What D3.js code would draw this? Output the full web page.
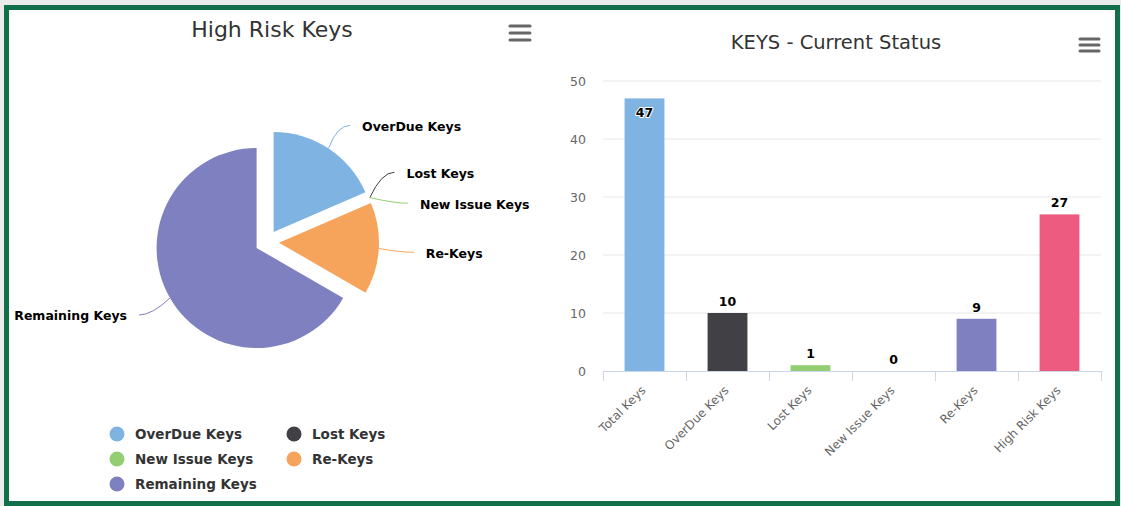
<!DOCTYPE html>
<html>
<head>
<meta charset="utf-8">
<script src="https://cdn.jsdelivr.net/npm/d3@7"></script>
<style>
  body { margin: 0; background: #fff; }
  svg { display: block; font-family: 'DejaVu Sans', sans-serif; }
</style>
</head>
<body>
<div id="chart"></div>
<script>
// pie data (left panel)
const pieCats = ['OverDue Keys', 'Lost Keys', 'New Issue Keys', 'Re-Keys', 'Remaining Keys']
const pieValues = [10, 0, 0, 8, 36]
const pieColors = ['#7eb3e2', '#414145', '#93cf72', '#f6a35c', '#7f80bf']

// bar data (right panel)
const barCats = ['Total Keys', 'OverDue Keys', 'Lost Keys', 'New Issue Keys', 'Re-Keys', 'High Risk Keys']
const barValues = [47, 10, 1, 0, 9, 27]
const barColors = ['#7eb3e2', '#414145', '#93cf72', '#f6a35c', '#7f80bf', '#ee5b80']
const yTicks = [0, 10, 20, 30, 40, 50]

const W = 1121, H = 506
const svg = d3.select('#chart').append('svg')
  .attr('width', W)
  .attr('height', H)

// page background + green frame
svg.append('rect').attr('width', W).attr('height', H).attr('fill', '#ebebeb')
svg.append('rect')
  .attr('x', 6.5).attr('y', 7.5)
  .attr('width', W - 10).attr('height', H - 10)
  .attr('fill', '#fff')
  .attr('stroke', '#11704a')
  .attr('stroke-width', 5)

function menuIcon(g, x, y, w, gap) {
  for (let i = 0; i < 3; i++) {
    g.append('line')
      .attr('x1', x).attr('x2', x + w)
      .attr('y1', y + i * gap).attr('y2', y + i * gap)
      .attr('stroke', '#666')
      .attr('stroke-width', 3)
      .attr('stroke-linecap', 'round')
  }
}

// ---------- pie ----------
const pieG = svg.append('g')
pieG.append('text')
  .text('High Risk Keys')
  .attr('x', 272).attr('y', 37)
  .attr('text-anchor', 'middle')
  .attr('fill', '#333')
  .style('font-size', '22px')
menuIcon(pieG, 510, 26, 20, 7)

const cx = 267, cy = 242, r = 100, sliceOff = 12, labelR = 130
const pie = d3.pie().sort(null).value(d => d)
const arcs = pie(pieValues)
const arc = d3.arc().innerRadius(0).outerRadius(r)

const slices = arcs.map((a, i) => {
  const mid = (a.startAngle + a.endAngle) / 2
  const dx = Math.sin(mid), dy = -Math.cos(mid)
  return {
    a: a, i: i, mid: mid, dx: dx, dy: dy,
    ox: dx * sliceOff, oy: dy * sliceOff,
    right: mid < Math.PI,
    y: cy + dy * sliceOff + dy * labelR
  }
})

pieG.append('g').selectAll('path').data(slices)
  .enter().append('path')
  .attr('transform', d => `translate(${cx + d.ox},${cy + d.oy})`)
  .attr('d', d => arc(d.a))
  .attr('fill', d => pieColors[d.i])

// spread labels that collide (per side)
const minGap = 31
for (const side of [true, false]) {
  const list = slices.filter(s => s.right === side).sort((p, q) => p.y - q.y)
  for (let iter = 0; iter < 50; iter++) {
    let moved = false
    for (let k = 1; k < list.length; k++) {
      const diff = list[k].y - list[k - 1].y
      if (diff < minGap) {
        const push = (minGap - diff) / 2
        list[k - 1].y -= push
        list[k].y += push
        moved = true
      }
    }
    if (!moved) break
  }
}
slices.forEach(s => {
  const ddy = s.y - (cy + s.oy)
  const half = Math.sqrt(Math.max(0, labelR * labelR - ddy * ddy))
  s.cxLab = s.right ? cx + s.ox + half : cx + s.ox - half
  s.tx = s.right ? s.cxLab + 17 : s.cxLab - 17
  s.ex = cx + s.ox + s.dx * r
  s.ey = cy + s.oy + s.dy * r
})

pieG.append('g').selectAll('path').data(slices)
  .enter().append('path')
  .attr('fill', 'none')
  .attr('stroke', d => pieColors[d.i])
  .attr('stroke-width', 1)
  .attr('d', d => {
    const endX = d.right ? d.cxLab + 5 : d.cxLab - 5
    const ctrlX = d.right ? d.cxLab - 8 : d.cxLab + 8
    return `M${d.ex},${d.ey} Q${ctrlX},${d.y + 2} ${endX},${d.y + 2}`
  })

pieG.append('g').selectAll('text').data(slices)
  .enter().append('text')
  .text(d => pieCats[d.i])
  .attr('x', d => d.tx)
  .attr('y', d => d.y + 3)
  .attr('dy', '0.35em')
  .attr('text-anchor', d => d.right ? 'start' : 'end')
  .attr('fill', '#000')
  .style('font-size', '12.5px')
  .style('font-weight', 'bold')

// legend
const legend = pieG.append('g').selectAll('g').data(pieCats)
  .enter().append('g')
  .attr('transform', (d, i) => `translate(${117 + (i % 2) * 177},${434 + Math.floor(i / 2) * 25})`)
legend.append('circle')
  .attr('r', 7.5)
  .attr('fill', (d, i) => pieColors[i])
legend.append('text')
  .text(d => d)
  .attr('x', 18)
  .attr('dy', '0.35em')
  .attr('fill', '#333')
  .style('font-size', '13.5px')
  .style('font-weight', 'bold')

// ---------- bar ----------
const barG = svg.append('g')
barG.append('text')
  .text('KEYS - Current Status')
  .attr('x', 836).attr('y', 49)
  .attr('text-anchor', 'middle')
  .attr('fill', '#333')
  .style('font-size', '19.5px')
menuIcon(barG, 1080, 39, 19, 6)

const plotL = 603, plotR = 1101, plotT = 81, plotB = 371
const xScale = d3.scaleBand().domain(barCats).range([plotL, plotR])
const yScale = d3.scaleLinear().domain([0, 50]).range([plotB, plotT])

// gridlines
barG.append('g').selectAll('line').data(yTicks.filter(t => t > 0))
  .enter().append('line')
  .attr('x1', plotL).attr('x2', plotR)
  .attr('y1', d => yScale(d)).attr('y2', d => yScale(d))
  .attr('stroke', '#e6e6e6')

const yAxis = barG.append('g')
  .attr('transform', `translate(${plotL},0)`)
  .call(d3.axisLeft(yScale).tickValues(yTicks).tickSize(0).tickPadding(17))
yAxis.select('.domain').remove()
yAxis.selectAll('text')
  .attr('fill', '#666')
  .style('font-size', '12.5px')
  .style('font-family', 'DejaVu Sans, sans-serif')

const bw = xScale.bandwidth() * 0.48
barG.append('g').selectAll('rect').data(barValues)
  .enter().append('rect')
  .attr('x', (d, i) => xScale(barCats[i]) + (xScale.bandwidth() - bw) / 2)
  .attr('y', d => yScale(d))
  .attr('width', bw)
  .attr('height', d => plotB - yScale(d))
  .attr('fill', (d, i) => barColors[i])

// x axis
const xAxis = barG.append('g')
  .attr('transform', `translate(0,${plotB})`)
  .call(d3.axisBottom(xScale).tickSize(0).tickPadding(0))
xAxis.select('.domain').attr('stroke', '#ccd6eb').attr('d', `M${plotL},0.5H${plotR}`)
xAxis.selectAll('.tick text')
  .attr('fill', '#666')
  .style('font-size', '12px')
  .style('font-family', 'DejaVu Sans, sans-serif')
  .attr('text-anchor', 'end')
  .attr('dy', 0)
  .attr('transform', 'translate(2,20) rotate(-45)')
// tick marks at category boundaries
barG.append('g').selectAll('line').data(barCats.concat(['end']))
  .enter().append('line')
  .attr('x1', (d, i) => plotL + i * xScale.step() + 0.5)
  .attr('x2', (d, i) => plotL + i * xScale.step() + 0.5)
  .attr('y1', plotB).attr('y2', plotB + 10)
  .attr('stroke', '#ccd6eb')

// data labels
barG.append('g').selectAll('text').data(barValues)
  .enter().append('text')
  .text(d => d)
  .attr('x', (d, i) => xScale(barCats[i]) + xScale.bandwidth() / 2)
  .attr('y', d => {
    const top = yScale(d)
    return top - 20 < plotT ? top + 19 : top - 7
  })
  .attr('text-anchor', 'middle')
  .attr('fill', '#000')
  .attr('stroke', '#fff')
  .attr('stroke-width', 2)
  .attr('paint-order', 'stroke')
  .attr('stroke-linejoin', 'round')
  .style('font-size', '12.5px')
  .style('font-weight', 'bold')
</script>
</body>
</html>
